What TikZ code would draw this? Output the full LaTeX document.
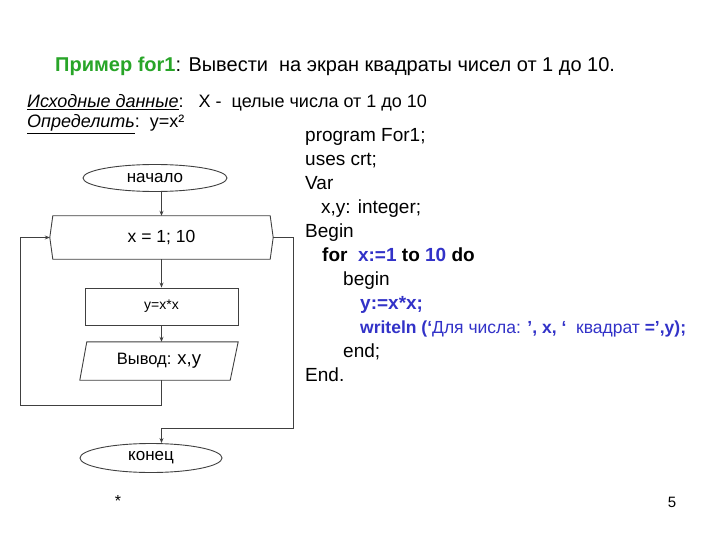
\documentclass[tikz,border=0pt]{standalone}
\usepackage{fontspec}
\setmainfont{Liberation Sans}
\usetikzlibrary{arrows.meta,calc,shapes.geometric}
\definecolor{taskgreen}{RGB}{40,165,40}
\definecolor{codeblue}{RGB}{50,50,200}
\newcommand{\setfs}[1]{\fontsize{#1}{#1}\selectfont}
\tikzset{line/.style={draw=black!75,line width=.9pt},
 flow/.style={line,-{Stealth[length=5pt,width=4pt]}},
 term/.style={ellipse,line,inner sep=0pt,font={\setfs{17}}},
 block/.style={line,minimum width=153pt,minimum height=37pt,inner sep=0pt,font={\setfs{14}}},
 txt/.style={anchor=base west,inner sep=0pt},
 every node/.style={text=black}}

\begin{document}
\begin{tikzpicture}[x=1pt,y=-1pt]
\useasboundingbox[fill=white] (0,0) rectangle (720,540);
% task text
\node[txt,font={\setfs{20}}] (title) at (55,72)
 {\textcolor{taskgreen}{\textbf{Пример for1}}: Вывести\ \ на экран квадраты чисел от 1 до 10.};
\node[txt,font={\setfs{18}}] (given) at (27,108)
 {\textit{\underline{Исходные данные}}:\ \ \ X -\ \ целые числа от 1 до 10};
\node[txt,font={\setfs{18}}] (find) at (27,128) {\textit{\underline{Определить}}:\ \ y=x²};
% program
\foreach \i/\dx/\line in {0/0/{program For1;},1/0/{uses crt;},2/0/{Var},3/16/{x,y: integer;},
 4/0/{Begin},
 5/17/{\textbf{for\ \ \textcolor{codeblue}{x:=1} to \textcolor{codeblue}{10} do}},
 6/38/{begin},
 7/55/{\textcolor{codeblue}{\textbf{y:=x*x;}}},
 8/55/{\setfs{17.5}\color{codeblue}\textbf{writeln (‘}Для числа: \textbf{’, x, ‘}\ \ квадрат \textbf{=’,y);}},
 9/38/{end;},10/0/{End.}}
  \node[txt,font={\setfs{19}}] (code\i) at (305+\dx,142+23.9*\i) {\line};
% flowchart
\node[term,minimum width=144pt,minimum height=27pt] (start) at (155,178) {начало};
\node[minimum width=217pt,minimum height=43pt,inner sep=0pt,font={\setfs{17.5}}] (loop) at (161.5,237.5) {x = 1; 10};
\coordinate (lp) at ($(loop.west)+(-3,0)$);
\coordinate (rp) at ($(loop.east)+(3,0)$);
\draw[line] (loop.north west) -- (loop.north east) -- (rp) -- (loop.south east)
 -- (loop.south west) -- (lp) -- cycle;
\node[block] (calc) at (161.5,306.5) {y=x*x};
\node[minimum width=158pt,minimum height=38pt,inner sep=0pt,font={\setfs{16.5}}] (out) at (159,361)
 {Вывод: {\setfs{18.5}x,y}};
\draw[line] (out.south west) -- ($(out.north west)+(7,0)$) -- (out.north east)
 -- ($(out.south east)+(-8,0)$) -- cycle;
\node[term,minimum width=142pt,minimum height=29pt] (stop) at (151,458) {конец};
\coordinate (back) at (20,405);
\coordinate (exit) at (293,428);
\draw[flow] (loop.north |- start.south) -- (loop.north);
\draw[flow] (loop.south) -- (calc.north);
\draw[flow] (calc.south) -- (calc.south |- out.north);
\draw[flow] (calc.south |- out.south) |- (back) |- (lp);
\draw[flow] (rp) -| (exit) -| (calc.south |- stop.north);
% footer
\node[font={\setfs{16}}] (star) at (118,501) {*};
\node[font={\setfs{15}}] (page) at (672,502) {5};
\end{tikzpicture}
\end{document}
